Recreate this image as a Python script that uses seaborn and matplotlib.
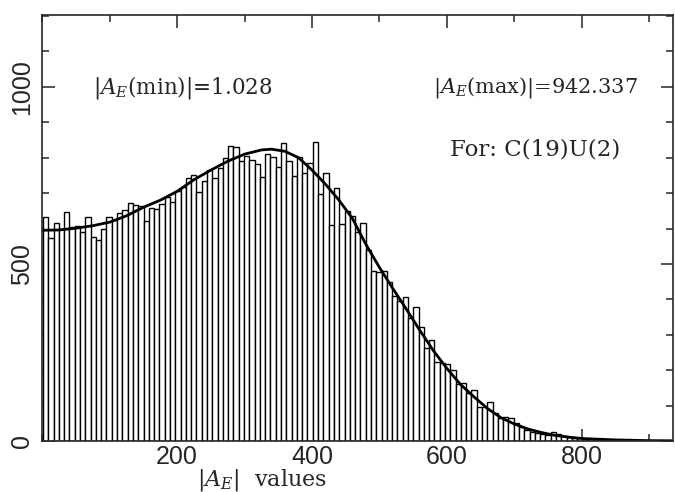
import numpy as np
import pandas as pd
import seaborn as sb
import matplotlib
matplotlib.use("Agg")
import matplotlib.pyplot as plt
from matplotlib.ticker import MultipleLocator

# Histogram of |A_E| values: 120 bins between min and max
a_min = 1.028
a_max = 942.337
n_bins = 120

counts = [
    632, 574, 615, 600, 648, 605, 608, 590, 632, 577,
    568, 598, 633, 623, 645, 653, 671, 666, 664, 620,
    658, 655, 668, 688, 675, 705, 718, 742, 752, 704,
    733, 766, 742, 772, 798, 832, 829, 790, 805, 794,
    781, 745, 811, 803, 773, 841, 791, 749, 801, 758,
    784, 845, 697, 756, 610, 714, 613, 650, 634, 591,
    617, 540, 481, 476, 481, 450, 410, 395, 408, 346,
    377, 323, 262, 284, 222, 219, 216, 200, 160, 165,
    135, 143, 97, 95, 110, 78, 64, 67, 66, 50,
    39, 31, 26, 22, 20, 17, 24, 20, 14, 12,
    9, 8, 6, 5, 4, 3, 3, 2, 2, 1,
    1, 1, 0, 1, 0, 0, 0, 1, 0, 1,
]

# fitted curve
curve_x = [0, 25, 50, 75, 100, 125, 150, 175, 200, 225, 250, 275, 300, 325,
           340, 360, 380, 400, 420, 440, 460, 480, 500, 520, 540, 560, 580,
           600, 620, 640, 660, 680, 700, 720, 740, 760, 780, 800, 850, 900, 940]
curve_y = [595, 596, 601, 608, 618, 636, 660, 680, 705, 738, 765, 790, 810,
           822, 824, 818, 800, 765, 725, 680, 628, 555, 490, 430, 372, 312,
           255, 205, 160, 125, 92, 66, 48, 34, 24, 16, 11, 7, 3, 1, 0.5]

edges = np.linspace(a_min, a_max, n_bins + 1)
df = pd.DataFrame({'A': (edges[:-1] + edges[1:]) / 2, 'count': counts})

sb.set_style("ticks")
plt.rcParams['font.family'] = ['Liberation Sans', 'DejaVu Sans']
plt.rcParams['mathtext.fontset'] = 'dejavuserif'

fig = plt.figure(figsize=(6.75, 4.92), dpi=100)
ax = fig.add_axes([0.0627, 0.1037, 0.934, 0.8658])

sb.histplot(data=df, x='A', weights='count', bins=n_bins,
            binrange=(a_min, a_max), ax=ax,
            color='white', edgecolor='black', linewidth=1.0, alpha=1)
sb.lineplot(x=curve_x, y=curve_y, ax=ax, color='black', linewidth=2.0)

ax.set_xlim(0, 935)
ax.set_ylim(0, 1203)
ax.set_xlabel('')
ax.set_ylabel('')

ax.xaxis.set_major_locator(MultipleLocator(200))
ax.xaxis.set_minor_locator(MultipleLocator(100))
ax.yaxis.set_major_locator(MultipleLocator(500))
ax.yaxis.set_minor_locator(MultipleLocator(100))
ax.set_xticks([200, 400, 600, 800])
ax.tick_params(which='both', direction='in', top=True, right=True, width=1.1,
               labelsize=18)
ax.tick_params(which='major', length=9)
ax.tick_params(which='minor', length=5)
ax.tick_params(axis='x', pad=3)
ax.tick_params(axis='y', pad=6)
for lab in ax.get_yticklabels():
    lab.set_rotation(90)
    lab.set_va('center')
for sp in ax.spines.values():
    sp.set_linewidth(1.2)

serif = ['DejaVu Serif']
ax.text(75, 997, r'$|A_E$(min)$|$=1.028', family=serif, fontsize=15.5,
        ha='left', va='center')
ax.text(883, 997, r'$|A_E$(max)$|$=942.337', family=serif, fontsize=15,
        ha='right', va='center')
ax.text(605, 822, 'For: C(19)U(2)', family=serif, fontsize=16.5,
        ha='left', va='center')

fig.text(262 / 675, 12 / 492, r'$|A_E|$  values', family=serif, fontsize=16,
         ha='center', va='center')

fig.savefig('out.png', dpi=100)
